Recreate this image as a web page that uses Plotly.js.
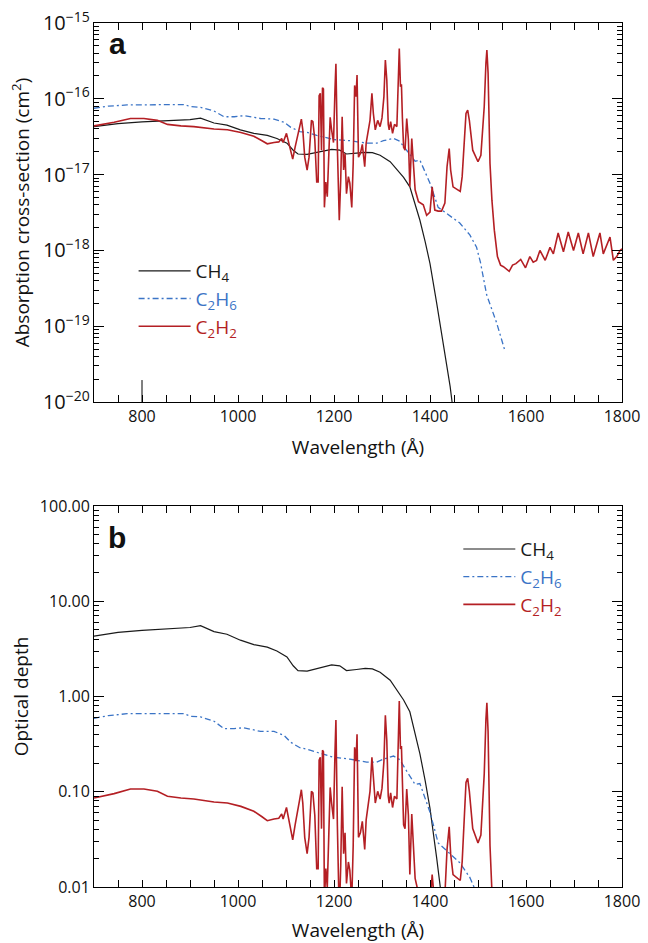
<!DOCTYPE html>
<html>
<head>
<meta charset="utf-8">
<script src="https://cdn.plot.ly/plotly-3.0.1.min.js"></script>
<style>html,body{margin:0;padding:0;background:#fff;}</style>
</head>
<body>
<div id="chart" style="width:648px;height:943px;"></div>
<script>
// ---------- data ----------
// Panel a: absorption cross-sections (cm^2)
const lambdaCH4 = [700,750,800,850,900,922,935,950,977,1005,1033,1061,1081,1102,1115,1125,1144,1164,1180,1195,1212,1226,1247,1265,1280,1296,1317,1331,1345,1358,1368,1379,1390,1400,1414,1428,1442,1446];
const sigmaCH4 = [4.3e-17,4.7e-17,4.95e-17,5.1e-17,5.3e-17,5.55e-17,5.2e-17,4.8e-17,4.5e-17,3.9e-17,3.5e-17,3.3e-17,3.0e-17,2.6e-17,2.1e-17,1.87e-17,1.85e-17,1.97e-17,2.05e-17,2.15e-17,2.1e-17,1.87e-17,1.92e-17,1.97e-17,1.95e-17,1.8e-17,1.48e-17,1.15e-17,9.2e-18,6.9e-18,4.2e-18,2.5e-18,1.3e-18,6.7e-19,2.0e-19,5.9e-20,1.6e-20,1.0e-20];

const lambdaC2H6 = [700,730,769,839,887,901,922,950,971,992,1012,1047,1075,1096,1110,1129,1144,1164,1186,1199,1233,1268,1289,1303,1324,1337,1351,1360,1369,1379,1390,1400,1417,1442,1462,1483,1497,1505,1518,1539,1555];
const sigmaC2H6 = [7.5e-17,8.0e-17,8.3e-17,8.4e-17,8.4e-17,7.9e-17,7.7e-17,6.9e-17,5.8e-17,5.8e-17,6.0e-17,5.5e-17,5.4e-17,4.9e-17,4.2e-17,3.7e-17,3.6e-17,3.3e-17,3.05e-17,2.9e-17,2.8e-17,2.6e-17,2.6e-17,2.8e-17,3.0e-17,2.75e-17,2.1e-17,1.8e-17,1.5e-17,1.55e-17,1.1e-17,7.7e-18,3.7e-18,2.8e-18,2.3e-18,1.6e-18,1.1e-18,7.0e-19,2.6e-19,1.1e-19,5.0e-20];

const lambdaC2H2 = [700,742,776,804,832,853,881,908,950,978,1006,1033,1050,1061,1075,1085,1091,1094,1101,1108,1114,1119,1123,1128,1132,1135,1139,1144,1148,1153,1156,1160,1164,1167,1169,1171.5,1174,1176,1178,1180,1183,1186,1189,1192,1195,1199,1202,1204,1207,1211,1214,1217,1220,1223,1226,1230,1233,1237,1240,1243,1246,1248,1251,1255,1259,1264,1267,1271,1275,1279,1282,1286,1291,1296,1300,1304,1307,1310,1313,1315,1318,1322,1326,1331,1336,1338.5,1340.5,1342.5,1345,1348,1351.5,1355,1358,1362,1365.5,1369,1376,1386,1393,1400,1404.5,1410,1417,1424,1431,1435.5,1440,1443,1448,1458,1463,1467,1471.5,1475,1478.5,1482,1489,1496,1500,1506,1509,1513,1516.5,1518.5,1521,1525,1529,1534,1540.5,1547,1553,1558,1565,1572,1579,1589,1599,1608,1615,1622,1629,1640,1650,1657,1667,1678,1688,1699,1709,1719,1730,1740,1754,1761,1775,1782,1789,1796,1800];
const sigmaC2H2 = [4.4e-17,4.9e-17,5.5e-17,5.5e-17,5.2e-17,4.6e-17,4.4e-17,4.3e-17,4.0e-17,3.9e-17,3.6e-17,3.2e-17,2.8e-17,2.55e-17,2.65e-17,2.7e-17,3.0e-17,2.65e-17,3.5e-17,2.3e-17,1.6e-17,2.3e-17,3.1e-17,4.1e-17,5.4e-17,3.9e-17,1.7e-17,1.15e-17,1.7e-17,5.2e-17,5.0e-17,2.9e-17,8.0e-18,8.0e-18,1.1e-16,1.18e-16,2.1e-17,1.4e-16,1.35e-16,3.7e-18,8.0e-18,5.1e-18,1.7e-17,5.7e-17,3.9e-17,2.65e-17,1.3e-16,2.9e-16,2.3e-17,2.5e-18,8.5e-18,5.8e-17,1.15e-17,1.9e-17,5.6e-18,9.4e-18,7.7e-18,3.7e-18,1.4e-17,1.5e-16,1.07e-16,2.06e-16,1.7e-17,1.9e-17,2.5e-17,1.27e-17,2.6e-17,3.5e-17,5.2e-17,1.18e-16,6.4e-17,3.9e-17,5.2e-17,4.3e-17,5.6e-17,1.07e-16,3.25e-16,1.77e-16,4.6e-17,3.9e-17,5.0e-17,3.5e-17,4.6e-17,4.3e-17,4.6e-16,1.44e-16,1.55e-16,5.6e-17,2.3e-17,2.1e-17,5.5e-17,2.9e-17,6.9e-18,3.0e-17,1.15e-17,6.3e-18,4.4e-18,4.0e-18,2.9e-18,3.2e-18,6.9e-18,3.4e-18,3.3e-18,3.3e-18,4.2e-18,1.27e-17,2.2e-17,1.15e-17,6.9e-18,6.3e-18,6.0e-18,9.4e-18,3.2e-17,6.4e-17,7.1e-17,5.2e-17,2.1e-17,1.65e-17,1.48e-17,1.8e-17,3.9e-17,7.9e-17,2.94e-16,4.4e-16,2.2e-16,1.4e-17,4.6e-18,1.85e-18,8.3e-19,6.4e-19,6.1e-19,5.8e-19,5.3e-19,6.4e-19,6.7e-19,7.6e-19,5.9e-19,8.3e-19,7.0e-19,7.4e-19,1.0e-18,7.4e-19,1.1e-18,9.0e-19,1.7e-18,9.6e-19,1.75e-18,1.0e-18,1.7e-18,9.0e-19,1.7e-18,8.3e-19,1.7e-18,9.0e-19,1.5e-18,7.4e-19,8.3e-19,1.0e-18,1.05e-18];

// Panel b: optical depth
const tauCH4 = [4.3,4.7,4.95,5.1,5.3,5.55,5.2,4.8,4.5,3.9,3.5,3.3,3.0,2.6,2.1,1.87,1.85,1.97,2.05,2.15,2.1,1.87,1.92,1.97,1.95,1.8,1.48,1.15,0.92,0.69,0.42,0.25,0.13,0.067,0.02,0.0059,0.0016,0.001];
const tauC2H6 = [0.59,0.63,0.66,0.66,0.66,0.62,0.61,0.55,0.46,0.46,0.47,0.43,0.43,0.39,0.33,0.29,0.28,0.26,0.24,0.23,0.22,0.205,0.205,0.22,0.237,0.217,0.166,0.142,0.119,0.122,0.087,0.061,0.029,0.022,0.018,0.0126,0.0087,0.0055,0.0021,0.00087,0.0004];
const lambdaTauC2H2 = [700,742,776,804,832,853,881,908,950,978,1006,1033,1050,1061,1075,1085,1091,1094,1101,1108,1114,1119,1123,1128,1132,1135,1139,1144,1148,1153,1156,1160,1164,1167,1169,1171.5,1174,1176,1178,1180,1183,1186,1189,1192,1195,1199,1202,1204,1207,1211,1214,1217,1220,1223,1226,1230,1233,1237,1240,1243,1246,1248,1251,1255,1259,1264,1267,1271,1275,1279,1282,1286,1291,1296,1300,1304,1307,1310,1313,1315,1318,1322,1326,1331,1336,1338.5,1340.5,1342.5,1345,1348,1351.5,1355,1358,1362,1365.5,1369,1376,1386,1393,1400,1404.5,1410,1417,1424,1431,1435.5,1440,1443,1448,1458,1463,1467,1471.5,1475,1478.5,1482,1489,1496,1500,1506,1509,1513,1516.5,1518.5,1521,1525,1529,1534,1540.5];
const tauC2H2 = [0.0858,0.0956,0.107,0.107,0.101,0.0897,0.0858,0.0839,0.078,0.0761,0.0702,0.0624,0.0546,0.0497,0.0517,0.0527,0.0585,0.0517,0.0683,0.0449,0.0312,0.0449,0.0605,0.08,0.105,0.0761,0.0332,0.0224,0.0332,0.101,0.0975,0.0566,0.0156,0.0156,0.215,0.23,0.041,0.273,0.263,0.0072,0.0156,0.0099,0.0332,0.111,0.0761,0.0517,0.254,0.566,0.0449,0.0049,0.0166,0.113,0.0224,0.037,0.0109,0.0183,0.015,0.0072,0.0273,0.293,0.209,0.402,0.0332,0.037,0.0488,0.0248,0.0507,0.0683,0.101,0.23,0.125,0.0761,0.101,0.0839,0.109,0.209,0.634,0.345,0.0897,0.0761,0.0975,0.0683,0.0897,0.0839,0.897,0.281,0.302,0.109,0.0449,0.041,0.107,0.0566,0.0135,0.0585,0.0224,0.0123,0.0086,0.0078,0.0057,0.0062,0.0135,0.0066,0.0064,0.0064,0.0082,0.0248,0.0429,0.0224,0.0135,0.0123,0.0117,0.0183,0.0624,0.125,0.138,0.101,0.041,0.0322,0.0289,0.0351,0.0761,0.154,0.573,0.858,0.429,0.0273,0.009,0.0036,0.0016];

const seriesNames = ['CH<sub>4</sub>', 'C<sub>2</sub>H<sub>6</sub>', 'C<sub>2</sub>H<sub>2</sub>'];

// ---------- styling ----------
const FONT = "'Open Sans', 'Noto Sans', sans-serif";
const colCH4 = '#1a1a1a', colC2H6 = '#3b74c6', colC2H2 = '#b41f24';
const lineStyles = [
  {color: colCH4, width: 1.2},
  {color: colC2H6, width: 1.3, dash: '6px,3px,2px,3px'},
  {color: colC2H2, width: 1.6}
];
const nameColors = [colCH4, colC2H6, colC2H2];
function lname(i){ return '<span style="color:' + nameColors[i] + '">' + seriesNames[i] + '</span>'; }

const traces = [
  {x: lambdaCH4, y: sigmaCH4, xaxis:'x', yaxis:'y', legend:'legend', legendgroup:'a1', name: lname(0)},
  {x: lambdaC2H6, y: sigmaC2H6, xaxis:'x', yaxis:'y', legend:'legend', legendgroup:'a2', name: lname(1)},
  {x: lambdaC2H2, y: sigmaC2H2, xaxis:'x', yaxis:'y', legend:'legend', legendgroup:'a3', name: lname(2)},
  {x: lambdaCH4, y: tauCH4, xaxis:'x2', yaxis:'y2', legend:'legend2', legendgroup:'b1', name: lname(0)},
  {x: lambdaC2H6, y: tauC2H6, xaxis:'x2', yaxis:'y2', legend:'legend2', legendgroup:'b2', name: lname(1)},
  {x: lambdaTauC2H2, y: tauC2H2, xaxis:'x2', yaxis:'y2', legend:'legend2', legendgroup:'b3', name: lname(2)}
].map((t, i) => Object.assign(t, {type:'scatter', mode:'lines', line: lineStyles[i % 3], hoverinfo:'skip'}));

const xCommon = {
  range:[700,1800], tickmode:'linear', tick0:800, dtick:200, ticks:'inside', ticklen:7, tickwidth:1, tickcolor:'#000',
  showline:true, linecolor:'#000', linewidth:1, mirror:'allticks', showgrid:false, zeroline:false,
  tickfont:{size:16, color:'#111'},
  minor:{tick0:700, dtick:50, ticks:'inside', ticklen:7, tickwidth:1, tickcolor:'#000', showgrid:false},
  title:{text:'Wavelength (Å)', font:{size:19, color:'#111'}, standoff:14}
};
const yCommon = {
  type:'log', tickmode:'linear', dtick:1, ticks:'inside', ticklen:10, tickwidth:1, tickcolor:'#000',
  showline:true, linecolor:'#000', linewidth:1, mirror:'allticks', showgrid:false, zeroline:false,
  tickfont:{size:16, color:'#111'},
  minor:{dtick:'D1', ticks:'inside', ticklen:5, tickwidth:1, tickcolor:'#000', showgrid:false}
};

const layout = {
  width:648, height:943,
  margin:{l:94, r:26, t:23, b:56},
  paper_bgcolor:'#fff', plot_bgcolor:'#fff',
  font:{family: FONT, size:16, color:'#111'},
  showlegend:true,
  xaxis: Object.assign({}, xCommon, {anchor:'y', domain:[0,1]}),
  xaxis2: Object.assign({}, xCommon, {anchor:'y2', domain:[0,1], title:{text:'Wavelength (Å)', font:{size:19, color:'#111'}, standoff:18}}),
  yaxis: Object.assign({}, yCommon, {anchor:'x', domain:[0.5613,1], range:[-20,-15], exponentformat:'power',
    title:{text:'Absorption cross-section (cm<sup>2</sup>)', font:{size:19, color:'#111'}, standoff:8}}),
  yaxis2: Object.assign({}, yCommon, {anchor:'x2', domain:[0,0.441], range:[-2,2], tickformat:'.2f',
    title:{text:'Optical depth', font:{size:19, color:'#111'}, standoff:6}}),
  legend:{x:0.075, y:0.735, xanchor:'left', yanchor:'top', bgcolor:'rgba(0,0,0,0)', borderwidth:0,
    font:{size:19, family: FONT}, itemwidth:52, tracegroupgap:0, traceorder:'grouped'},
  legend2:{x:0.69, y:0.413, xanchor:'left', yanchor:'top', bgcolor:'rgba(0,0,0,0)', borderwidth:0,
    font:{size:19, family: FONT}, itemwidth:52, tracegroupgap:0, traceorder:'grouped'},
  annotations:[
    {text:'<b>a</b>', xref:'paper', yref:'paper', x:0.044, y:0.976, xanchor:'center', yanchor:'middle', showarrow:false,
     font:{family:"'Liberation Sans', Arial, sans-serif", size:30, color:'#111'}},
    {text:'<b>b</b>', xref:'paper', yref:'paper', x:0.044, y:0.405, xanchor:'center', yanchor:'middle', showarrow:false,
     font:{family:"'Liberation Sans', Arial, sans-serif", size:30, color:'#111'}}
  ],
  shapes:[
    {type:'line', xref:'x', yref:'y domain', x0:800, x1:800, y0:0, y1:0.058, line:{color:'#000', width:1}}
  ]
};

Plotly.newPlot('chart', traces, layout, {staticPlot:true, displayModeBar:false});
</script>
</body>
</html>
